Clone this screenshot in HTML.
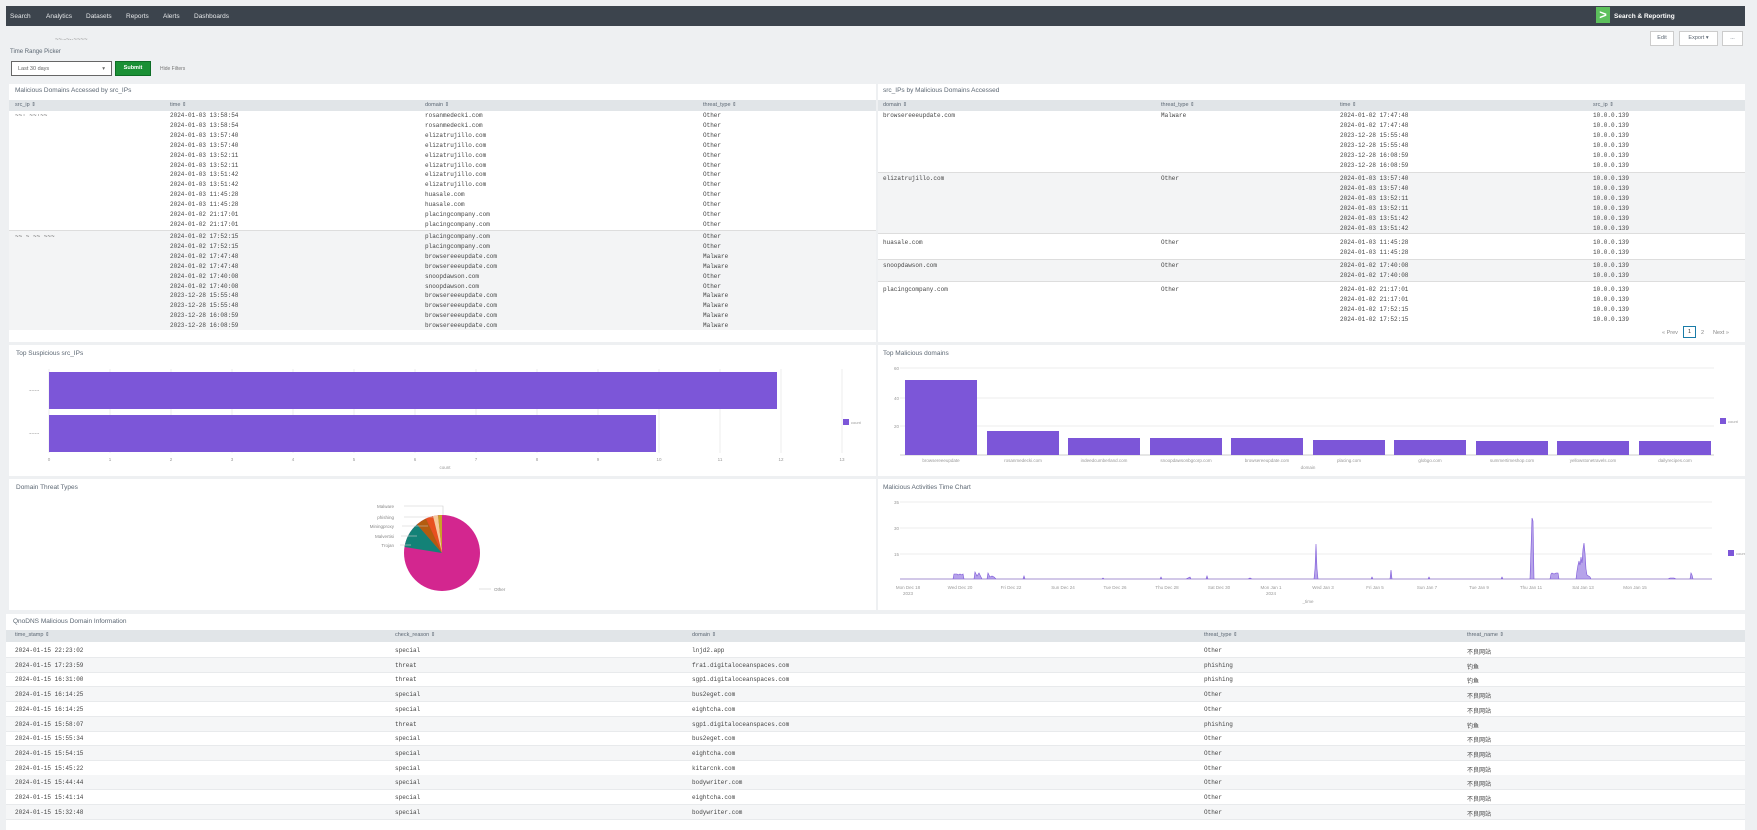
<!DOCTYPE html>
<html><head><meta charset="utf-8"><style>
*{margin:0;padding:0;box-sizing:border-box}
body{width:1757px;height:830px;background:#eef0f2;position:relative;overflow:hidden;font-family:"Liberation Sans","Noto Sans CJK SC",sans-serif;color:#5c6773}
.a{position:absolute}
.nav{left:6px;top:6px;width:1739px;height:20px;background:#3c444d}
.nav span{color:#e6e8ea;font-size:6.5px;position:absolute;top:7px}
.panel{background:#fff}
.t{font-size:7px;color:#5c6773}
.hd{background:#e1e5e8;height:11px}
.hd span{position:absolute;top:2px;font-size:5.5px;color:#5c6773}
pre{font-family:"Liberation Mono",monospace;font-size:6px;line-height:9.9px;color:#444;position:absolute}
.sm{font-size:5px;color:#888}
.row{position:absolute;height:14.7px;border-bottom:1px solid #e8eaec}
.row span{position:absolute;top:4px;font-family:"Liberation Mono","Noto Sans CJK SC",monospace;font-size:6px;color:#444}
</style></head><body>
<div class="a nav">
<span style="left:4px">Search</span><span style="left:40px">Analytics</span><span style="left:80px">Datasets</span><span style="left:120px">Reports</span><span style="left:157px">Alerts</span><span style="left:188px">Dashboards</span>
<div class="a" style="left:1590px;top:1px;width:14px;height:16px;background:#5cc05c;color:#fff;font-size:13px;font-weight:bold;line-height:16px;text-align:center">&gt;</div>
<span style="left:1608px;font-weight:bold;color:#fff">Search &amp; Reporting</span>
</div>
<div class="a sm" style="left:55px;top:37px;font-size:6px">~~·-~-·~~~~</div>
<div class="a t" style="left:10px;top:49px;font-size:6px">Time Range Picker</div>
<div class="a" style="left:11px;top:61px;width:101px;height:15px;border:1px solid #666;background:#fff;font-size:5.5px;padding:4px 6px;color:#666">Last 30 days<span style="float:right">▾</span></div>
<div class="a" style="left:115px;top:61px;width:36px;height:15px;background:#1a9035;border:1px solid #0d6d26;color:#fff;font-size:5.5px;font-weight:bold;text-align:center;line-height:13px">Submit</div>
<div class="a" style="left:160px;top:66px;font-size:5px;color:#777">Hide Filters</div>
<div class="a" style="left:1650px;top:31px;width:24px;height:15px;border:1px solid #ccc;background:#fff;font-size:5.5px;text-align:center;line-height:13px">Edit</div>
<div class="a" style="left:1679px;top:31px;width:39px;height:15px;border:1px solid #ccc;background:#fff;font-size:5.5px;text-align:center;line-height:13px">Export ▾</div>
<div class="a" style="left:1722px;top:31px;width:21px;height:15px;border:1px solid #ccc;background:#fff;font-size:5.5px;text-align:center;line-height:13px">...</div>

<!-- top-left table -->
<div class="a panel" style="left:9px;top:84px;width:867px;height:258px"></div>
<div class="a t" style="left:15px;top:87px;font-size:6.5px">Malicious Domains Accessed by src_IPs</div>
<div class="a hd" style="left:9px;top:100px;width:867px"><span style="left:6px">src_ip ⇕</span><span style="left:161px">time ⇕</span><span style="left:416px">domain ⇕</span><span style="left:694px">threat_type ⇕</span></div>
<div class="a" style="left:9px;top:230px;width:867px;height:100px;background:#f3f4f5;border-top:1px solid #ddd"></div>
<pre style="left:15px;top:111px">~~· ~~·~~</pre>
<pre style="left:170px;top:111px">2024-01-03 13:58:54
2024-01-03 13:58:54
2024-01-03 13:57:40
2024-01-03 13:57:40
2024-01-03 13:52:11
2024-01-03 13:52:11
2024-01-03 13:51:42
2024-01-03 13:51:42
2024-01-03 11:45:28
2024-01-03 11:45:28
2024-01-02 21:17:01
2024-01-02 21:17:01</pre>
<pre style="left:425px;top:111px">rosanmedecki.com
rosanmedecki.com
elizatrujillo.com
elizatrujillo.com
elizatrujillo.com
elizatrujillo.com
elizatrujillo.com
elizatrujillo.com
huasale.com
huasale.com
placingcompany.com
placingcompany.com</pre>
<pre style="left:703px;top:111px">Other
Other
Other
Other
Other
Other
Other
Other
Other
Other
Other
Other</pre>
<pre style="left:15px;top:232px">~~ ~ ~~ ~~~</pre>
<pre style="left:170px;top:232px">2024-01-02 17:52:15
2024-01-02 17:52:15
2024-01-02 17:47:48
2024-01-02 17:47:48
2024-01-02 17:40:08
2024-01-02 17:40:08
2023-12-28 15:55:48
2023-12-28 15:55:48
2023-12-28 16:08:59
2023-12-28 16:08:59</pre>
<pre style="left:425px;top:232px">placingcompany.com
placingcompany.com
browsereeeupdate.com
browsereeeupdate.com
snoopdawson.com
snoopdawson.com
browsereeeupdate.com
browsereeeupdate.com
browsereeeupdate.com
browsereeeupdate.com</pre>
<pre style="left:703px;top:232px">Other
Other
Malware
Malware
Other
Other
Malware
Malware
Malware
Malware</pre>

<!-- top-right table -->
<div class="a panel" style="left:878px;top:84px;width:867px;height:258px"></div>
<div class="a t" style="left:883px;top:87px;font-size:6.5px">src_IPs by Malicious Domains Accessed</div>
<div class="a hd" style="left:878px;top:100px;width:867px"><span style="left:5px">domain ⇕</span><span style="left:283px">threat_type ⇕</span><span style="left:462px">time ⇕</span><span style="left:715px">src_ip ⇕</span></div>
<div class="a" style="left:878px;top:172px;width:867px;height:62px;background:#f3f4f5;border-top:1px solid #ddd;border-bottom:1px solid #ddd"></div>
<div class="a" style="left:878px;top:259px;width:867px;height:23px;background:#f3f4f5;border-top:1px solid #ddd;border-bottom:1px solid #ddd"></div>
<pre style="left:883px;top:111px">browsereeeupdate.com</pre>
<pre style="left:1161px;top:111px">Malware</pre>
<pre style="left:1340px;top:111px">2024-01-02 17:47:48
2024-01-02 17:47:48
2023-12-28 15:55:48
2023-12-28 15:55:48
2023-12-28 16:08:59
2023-12-28 16:08:59</pre>
<pre style="left:1593px;top:111px">10.0.0.139
10.0.0.139
10.0.0.139
10.0.0.139
10.0.0.139
10.0.0.139</pre>
<pre style="left:883px;top:174px">elizatrujillo.com</pre>
<pre style="left:1161px;top:174px">Other</pre>
<pre style="left:1340px;top:174px">2024-01-03 13:57:40
2024-01-03 13:57:40
2024-01-03 13:52:11
2024-01-03 13:52:11
2024-01-03 13:51:42
2024-01-03 13:51:42</pre>
<pre style="left:1593px;top:174px">10.0.0.139
10.0.0.139
10.0.0.139
10.0.0.139
10.0.0.139
10.0.0.139</pre>
<pre style="left:883px;top:238px">huasale.com</pre>
<pre style="left:1161px;top:238px">Other</pre>
<pre style="left:1340px;top:238px">2024-01-03 11:45:28
2024-01-03 11:45:28</pre>
<pre style="left:1593px;top:238px">10.0.0.139
10.0.0.139</pre>
<pre style="left:883px;top:261px">snoopdawson.com</pre>
<pre style="left:1161px;top:261px">Other</pre>
<pre style="left:1340px;top:261px">2024-01-02 17:40:08
2024-01-02 17:40:08</pre>
<pre style="left:1593px;top:261px">10.0.0.139
10.0.0.139</pre>
<pre style="left:883px;top:285px">placingcompany.com</pre>
<pre style="left:1161px;top:285px">Other</pre>
<pre style="left:1340px;top:285px">2024-01-02 21:17:01
2024-01-02 21:17:01
2024-01-02 17:52:15
2024-01-02 17:52:15</pre>
<pre style="left:1593px;top:285px">10.0.0.139
10.0.0.139
10.0.0.139
10.0.0.139</pre>
<div class="a sm" style="left:1662px;top:330px;font-size:5.5px">« Prev</div>
<div class="a" style="left:1683px;top:326px;width:13px;height:12px;border:1px solid #1a7ca8;font-size:5.5px;text-align:center;line-height:10px;color:#333">1</div>
<div class="a sm" style="left:1701px;top:330px;font-size:5.5px">2</div>
<div class="a sm" style="left:1713px;top:330px;font-size:5.5px">Next »</div>

<!-- bar chart -->
<div class="a panel" style="left:9px;top:345px;width:867px;height:131px"></div>
<div class="a t" style="left:16px;top:350px;font-size:6.5px">Top Suspicious src_IPs</div>
<svg class="a" style="left:9px;top:345px" width="867" height="131">
<g stroke="#eee" stroke-width="1">
<line x1="40" y1="24" x2="40" y2="108"/><line x1="101" y1="24" x2="101" y2="108"/><line x1="162" y1="24" x2="162" y2="108"/><line x1="223" y1="24" x2="223" y2="108"/><line x1="284" y1="24" x2="284" y2="108"/><line x1="345" y1="24" x2="345" y2="108"/><line x1="406" y1="24" x2="406" y2="108"/><line x1="467" y1="24" x2="467" y2="108"/><line x1="528" y1="24" x2="528" y2="108"/><line x1="589" y1="24" x2="589" y2="108"/><line x1="650" y1="24" x2="650" y2="108"/><line x1="711" y1="24" x2="711" y2="108"/><line x1="772" y1="24" x2="772" y2="108"/><line x1="833" y1="24" x2="833" y2="108"/></g>
<rect x="40" y="27" width="728" height="37" fill="#7c56d8"/>
<rect x="40" y="70" width="607" height="37" fill="#7c56d8"/>
<g font-size="4.5" fill="#999" text-anchor="middle">
<text x="40" y="116">0</text><text x="101" y="116">1</text><text x="162" y="116">2</text><text x="223" y="116">3</text><text x="284" y="116">4</text><text x="345" y="116">5</text><text x="406" y="116">6</text><text x="467" y="116">7</text><text x="528" y="116">8</text><text x="589" y="116">9</text><text x="650" y="116">10</text><text x="711" y="116">11</text><text x="772" y="116">12</text><text x="833" y="116">13</text><text x="436" y="124">count</text>
<text x="25" y="47">~~~~</text><text x="25" y="90">~~~~</text></g>
<rect x="834" y="74" width="6" height="6" fill="#7c56d8"/><text x="842" y="79" font-size="4" fill="#999">count</text>
</svg>

<!-- top domains -->
<div class="a panel" style="left:878px;top:345px;width:867px;height:131px"></div>
<div class="a t" style="left:883px;top:350px;font-size:6.5px">Top Malicious domains</div>
<svg class="a" style="left:878px;top:345px" width="867" height="131">
<g stroke="#eee"><line x1="22" y1="23" x2="836" y2="23"/><line x1="22" y1="53" x2="836" y2="53"/><line x1="22" y1="81" x2="836" y2="81"/></g>
<line x1="22" y1="110" x2="836" y2="110" stroke="#ccc"/>
<g fill="#7c56d8">
<rect x="27" y="35" width="72" height="75"/><rect x="109" y="86" width="72" height="24"/><rect x="190" y="93" width="72" height="17"/><rect x="272" y="93" width="72" height="17"/><rect x="353" y="93" width="72" height="17"/><rect x="435" y="95" width="72" height="15"/><rect x="516" y="95" width="72" height="15"/><rect x="598" y="96" width="72" height="14"/><rect x="679" y="96" width="72" height="14"/><rect x="761" y="96" width="72" height="14"/></g>
<g font-size="4.5" fill="#999"><text x="16" y="25">60</text><text x="16" y="55">40</text><text x="16" y="83">20</text>
<g text-anchor="middle"><text x="63" y="117">browsereeeupdate</text><text x="145" y="117">rosanmedecki.com</text><text x="226" y="117">indeedcumberland.com</text><text x="308" y="117">snoopdawsonbgcorp.com</text><text x="389" y="117">browsereeupdate.com</text><text x="471" y="117">placing.com</text><text x="552" y="117">globgo.com</text><text x="634" y="117">summertimeshop.com</text><text x="715" y="117">yellowstonetravels.com</text><text x="797" y="117">dailyrecipes.com</text><text x="430" y="124">domain</text></g></g>
<rect x="842" y="73" width="6" height="6" fill="#7c56d8"/><text x="850" y="78" font-size="4" fill="#999">count</text>
</svg>

<!-- pie -->
<div class="a panel" style="left:9px;top:479px;width:867px;height:131px"></div>
<div class="a t" style="left:16px;top:484px;font-size:6.5px">Domain Threat Types</div>
<svg class="a" style="left:9px;top:479px" width="867" height="131">
<g transform="translate(433,74)">
<circle r="38" fill="#d3268f"/>
<path d="M0,0 L-37.5,-6 A38,38 0 0 1 -25,-28.6 Z" fill="#138277"/>
<path d="M0,0 L-25,-28.6 A38,38 0 0 1 -16,-34.5 Z" fill="#b35c0f"/>
<path d="M0,0 L-16,-34.5 A38,38 0 0 1 -9,-37 Z" fill="#e8501f"/>
<path d="M0,0 L-9,-37 A38,38 0 0 1 -4,-37.8 Z" fill="#f6c99a"/>
<path d="M0,0 L-4,-37.8 A38,38 0 0 1 0,-38 Z" fill="#c9a227"/>
</g>
<g stroke="#ccc" stroke-width="0.6" fill="none"><path d="M395,27 H434 V36"/><path d="M395,38 H425"/><path d="M393,47 H419"/><path d="M392,57 H408"/><path d="M391,66 H402"/><path d="M470,110 H482"/></g>
<g font-size="4.5" fill="#888" text-anchor="end"><text x="385" y="29">Malware</text><text x="385" y="40">phishing</text><text x="385" y="49">Miningproxy</text><text x="385" y="59">Malvertisi</text><text x="385" y="68">Trojan</text></g>
<text x="485" y="112" font-size="4.5" fill="#888">Other</text>
</svg>

<!-- time chart -->
<div class="a panel" style="left:878px;top:479px;width:867px;height:131px"></div>
<div class="a t" style="left:883px;top:484px;font-size:6.5px">Malicious Activities Time Chart</div>
<svg class="a" style="left:878px;top:479px" width="867" height="131">
<g stroke="#eee"><line x1="22" y1="23" x2="834" y2="23"/><line x1="22" y1="49" x2="834" y2="49"/><line x1="22" y1="75" x2="834" y2="75"/></g>
<line x1="22" y1="100" x2="834" y2="100" stroke="#ccc"/>
<path fill="#b6a3ea" stroke="#7c56d8" stroke-width="0.6" d="M22,100 L75,100 L76,95 L79,95 L80,96 L82,95 L84,96 L85,95 L86,100 L96,100 L97,93 L99,97 L101,94 L103,98 L104,100 L109,100 L110,94 L112,98 L114,97 L116,98 L118,100 L145,100 L146,97 L147,100 L224,100 L225,99 L226,100 L282,100 L283,98 L284,100 L308,100 L310,99 L312,98 L313,100 L328,100 L329,97 L330,100 L370,100 L372,99 L374,100 L436,100 L437,90 L438,65 L439,90 L440,100 L493,100 L494,98 L495,100 L512,100 L513,91 L514,100 L550,100 L551,98 L552,100 L623,100 L624,98 L625,100 L652,100 L653,70 L654,39 L655,42 L656,100 L672,100 L673,95 L674,94 L676,95 L678,94 L680,94 L681,100 L698,100 L699,92 L700,86 L701,82 L702,86 L703,78 L704,84 L705,70 L706,64 L707,74 L708,90 L709,96 L712,98 L713,100 L790,100 L792,99 L796,99 L798,100 L812,100 L813,94 L814,96 L815,100 L834,100 Z"/>
<g font-size="4.5" fill="#999"><text x="16" y="25">35</text><text x="16" y="51">30</text><text x="16" y="77">15</text>
<g text-anchor="middle"><text x="30" y="110">Mon Dec 18</text><text x="30" y="116">2023</text><text x="82" y="110">Wed Dec 20</text><text x="133" y="110">Fri Dec 22</text><text x="185" y="110">Sun Dec 24</text><text x="237" y="110">Tue Dec 26</text><text x="289" y="110">Thu Dec 28</text><text x="341" y="110">Sat Dec 30</text><text x="393" y="110">Mon Jan 1</text><text x="393" y="116">2024</text><text x="445" y="110">Wed Jan 3</text><text x="497" y="110">Fri Jan 5</text><text x="549" y="110">Sun Jan 7</text><text x="601" y="110">Tue Jan 9</text><text x="653" y="110">Thu Jan 11</text><text x="705" y="110">Sat Jan 13</text><text x="757" y="110">Mon Jan 15</text><text x="430" y="124">_time</text></g></g>
<rect x="850" y="71" width="6" height="6" fill="#7c56d8"/><text x="858" y="76" font-size="4" fill="#999">count</text>
</svg>

<!-- bottom table -->
<div class="a panel" style="left:6px;top:614px;width:1739px;height:216px"></div>
<div class="a t" style="left:13px;top:618px;font-size:6.5px">QnoDNS Malicious Domain Information</div>
<div class="a hd" style="left:6px;top:630px;width:1739px;height:12px"><span style="left:9px">time_stamp ⇕</span><span style="left:389px">check_reason ⇕</span><span style="left:686px">domain ⇕</span><span style="left:1198px">threat_type ⇕</span><span style="left:1461px">threat_name ⇕</span></div>
<div class="row" style="left:6px;top:643px;width:1739px"><span style="left:9px">2024-01-15 22:23:02</span><span style="left:389px">special</span><span style="left:686px">lnjd2.app</span><span style="left:1198px">Other</span><span style="left:1461px">不良网站</span></div>
<div class="row" style="left:6px;top:658px;width:1739px;background:#f5f6f7"><span style="left:9px">2024-01-15 17:23:59</span><span style="left:389px">threat</span><span style="left:686px">fra1.digitaloceanspaces.com</span><span style="left:1198px">phishing</span><span style="left:1461px">钓鱼</span></div>
<div class="row" style="left:6px;top:672px;width:1739px"><span style="left:9px">2024-01-15 16:31:00</span><span style="left:389px">threat</span><span style="left:686px">sgp1.digitaloceanspaces.com</span><span style="left:1198px">phishing</span><span style="left:1461px">钓鱼</span></div>
<div class="row" style="left:6px;top:687px;width:1739px;background:#f5f6f7"><span style="left:9px">2024-01-15 16:14:25</span><span style="left:389px">special</span><span style="left:686px">bus2eget.com</span><span style="left:1198px">Other</span><span style="left:1461px">不良网站</span></div>
<div class="row" style="left:6px;top:702px;width:1739px"><span style="left:9px">2024-01-15 16:14:25</span><span style="left:389px">special</span><span style="left:686px">eightcha.com</span><span style="left:1198px">Other</span><span style="left:1461px">不良网站</span></div>
<div class="row" style="left:6px;top:717px;width:1739px;background:#f5f6f7"><span style="left:9px">2024-01-15 15:58:07</span><span style="left:389px">threat</span><span style="left:686px">sgp1.digitaloceanspaces.com</span><span style="left:1198px">phishing</span><span style="left:1461px">钓鱼</span></div>
<div class="row" style="left:6px;top:731px;width:1739px"><span style="left:9px">2024-01-15 15:55:34</span><span style="left:389px">special</span><span style="left:686px">bus2eget.com</span><span style="left:1198px">Other</span><span style="left:1461px">不良网站</span></div>
<div class="row" style="left:6px;top:746px;width:1739px;background:#f5f6f7"><span style="left:9px">2024-01-15 15:54:15</span><span style="left:389px">special</span><span style="left:686px">eightcha.com</span><span style="left:1198px">Other</span><span style="left:1461px">不良网站</span></div>
<div class="row" style="left:6px;top:761px;width:1739px"><span style="left:9px">2024-01-15 15:45:22</span><span style="left:389px">special</span><span style="left:686px">kitarcnk.com</span><span style="left:1198px">Other</span><span style="left:1461px">不良网站</span></div>
<div class="row" style="left:6px;top:775px;width:1739px;background:#f5f6f7"><span style="left:9px">2024-01-15 15:44:44</span><span style="left:389px">special</span><span style="left:686px">bodywriter.com</span><span style="left:1198px">Other</span><span style="left:1461px">不良网站</span></div>
<div class="row" style="left:6px;top:790px;width:1739px"><span style="left:9px">2024-01-15 15:41:14</span><span style="left:389px">special</span><span style="left:686px">eightcha.com</span><span style="left:1198px">Other</span><span style="left:1461px">不良网站</span></div>
<div class="row" style="left:6px;top:805px;width:1739px;background:#f5f6f7"><span style="left:9px">2024-01-15 15:32:48</span><span style="left:389px">special</span><span style="left:686px">bodywriter.com</span><span style="left:1198px">Other</span><span style="left:1461px">不良网站</span></div>
</body></html>
